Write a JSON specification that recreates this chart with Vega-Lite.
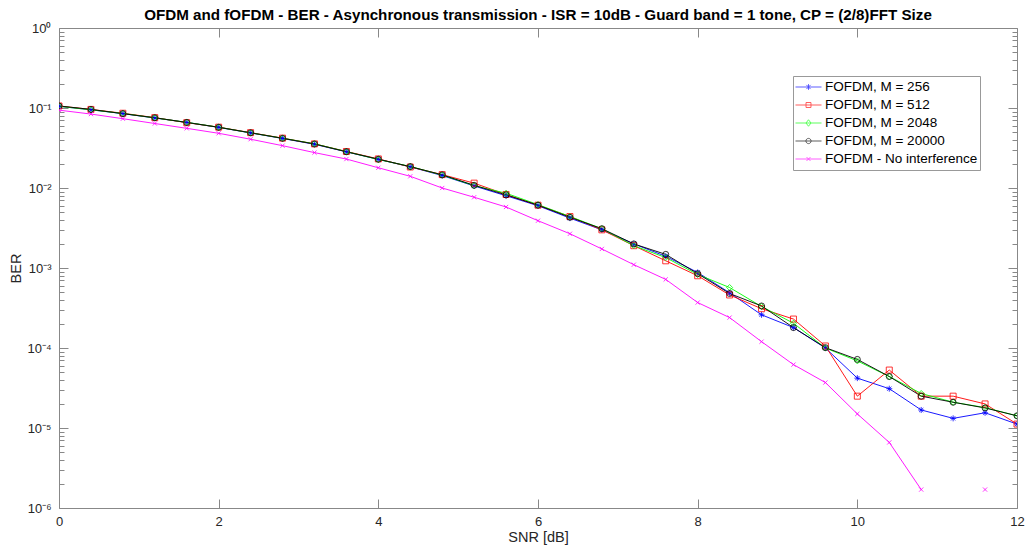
{
"$schema": "https://vega.github.io/schema/vega-lite/v6.json",
"width": 958, "height": 480,
"autosize": {"type": "none"},
"padding": {"left": 59, "top": 28, "right": 10, "bottom": 49},
"background": "white",
"title": {"text": "OFDM and fOFDM - BER - Asynchronous transmission - ISR = 10dB - Guard band  = 1 tone, CP = (2/8)FFT Size", "font": "Liberation Sans", "fontSize": 15.2, "fontWeight": "bold", "color": "#000000", "anchor": "middle", "offset": -1},
"config": {
  "view": {"stroke": "#888888", "strokeWidth": 1},
  "axis": {"grid": false, "domain": false, "tickColor": "#888888", "tickWidth": 1, "labelColor": "#262626", "labelFont": "Liberation Sans", "labelFontSize": 13, "titleFont": "Liberation Sans", "titleFontSize": 14.5, "titleFontWeight": "normal", "titleColor": "#262626"},
  "legend": {"orient": "none", "legendX": 734, "legendY": 48, "strokeColor": "#999999", "fillColor": "white", "padding": 2, "labelFont": "Liberation Sans", "labelFontSize": 13.5, "labelColor": "#000000", "symbolSize": 676, "symbolStrokeWidth": 0.9, "rowPadding": 0, "clipHeight": 18, "labelOffset": 3}
},
"data": {"values": [
{"series":"FOFDM, M = 256","snr":0,"ber":0.105},{"series":"FOFDM, M = 256","snr":0.4,"ber":0.095},{"series":"FOFDM, M = 256","snr":0.8,"ber":0.085},{"series":"FOFDM, M = 256","snr":1.2,"ber":0.075},{"series":"FOFDM, M = 256","snr":1.6,"ber":0.066},{"series":"FOFDM, M = 256","snr":2,"ber":0.0572},{"series":"FOFDM, M = 256","snr":2.4,"ber":0.0488},{"series":"FOFDM, M = 256","snr":2.8,"ber":0.0416},{"series":"FOFDM, M = 256","snr":3.2,"ber":0.0352},{"series":"FOFDM, M = 256","snr":3.6,"ber":0.0283},{"series":"FOFDM, M = 256","snr":4,"ber":0.0228},{"series":"FOFDM, M = 256","snr":4.4,"ber":0.0184},{"series":"FOFDM, M = 256","snr":4.8,"ber":0.0143},{"series":"FOFDM, M = 256","snr":5.2,"ber":0.0106},{"series":"FOFDM, M = 256","snr":5.6,"ber":0.008},{"series":"FOFDM, M = 256","snr":6,"ber":0.006},{"series":"FOFDM, M = 256","snr":6.4,"ber":0.0042},{"series":"FOFDM, M = 256","snr":6.8,"ber":0.003},{"series":"FOFDM, M = 256","snr":7.2,"ber":0.002},{"series":"FOFDM, M = 256","snr":7.6,"ber":0.0014},{"series":"FOFDM, M = 256","snr":8,"ber":0.00088},{"series":"FOFDM, M = 256","snr":8.4,"ber":0.00049},{"series":"FOFDM, M = 256","snr":8.8,"ber":0.00026},{"series":"FOFDM, M = 256","snr":9.2,"ber":0.00018},{"series":"FOFDM, M = 256","snr":9.6,"ber":0.0001},{"series":"FOFDM, M = 256","snr":10,"ber":0.000042},{"series":"FOFDM, M = 256","snr":10.4,"ber":0.000031},{"series":"FOFDM, M = 256","snr":10.8,"ber":0.0000168},{"series":"FOFDM, M = 256","snr":11.2,"ber":0.0000132},{"series":"FOFDM, M = 256","snr":11.6,"ber":0.0000155},{"series":"FOFDM, M = 256","snr":12,"ber":0.0000112},
{"series":"FOFDM, M = 512","snr":0,"ber":0.106},{"series":"FOFDM, M = 512","snr":0.4,"ber":0.096},{"series":"FOFDM, M = 512","snr":0.8,"ber":0.086},{"series":"FOFDM, M = 512","snr":1.2,"ber":0.0758},{"series":"FOFDM, M = 512","snr":1.6,"ber":0.0655},{"series":"FOFDM, M = 512","snr":2,"ber":0.0576},{"series":"FOFDM, M = 512","snr":2.4,"ber":0.0492},{"series":"FOFDM, M = 512","snr":2.8,"ber":0.042},{"series":"FOFDM, M = 512","snr":3.2,"ber":0.0356},{"series":"FOFDM, M = 512","snr":3.6,"ber":0.0286},{"series":"FOFDM, M = 512","snr":4,"ber":0.0231},{"series":"FOFDM, M = 512","snr":4.4,"ber":0.0183},{"series":"FOFDM, M = 512","snr":4.8,"ber":0.0147},{"series":"FOFDM, M = 512","snr":5.2,"ber":0.0115},{"series":"FOFDM, M = 512","snr":5.6,"ber":0.0083},{"series":"FOFDM, M = 512","snr":6,"ber":0.0061},{"series":"FOFDM, M = 512","snr":6.4,"ber":0.0044},{"series":"FOFDM, M = 512","snr":6.8,"ber":0.003},{"series":"FOFDM, M = 512","snr":7.2,"ber":0.0019},{"series":"FOFDM, M = 512","snr":7.6,"ber":0.00123},{"series":"FOFDM, M = 512","snr":8,"ber":0.0008},{"series":"FOFDM, M = 512","snr":8.4,"ber":0.00046},{"series":"FOFDM, M = 512","snr":8.8,"ber":0.00031},{"series":"FOFDM, M = 512","snr":9.2,"ber":0.00023},{"series":"FOFDM, M = 512","snr":9.6,"ber":0.000106},{"series":"FOFDM, M = 512","snr":10,"ber":0.000025},{"series":"FOFDM, M = 512","snr":10.4,"ber":0.000053},{"series":"FOFDM, M = 512","snr":10.8,"ber":0.000025},{"series":"FOFDM, M = 512","snr":11.2,"ber":0.000025},{"series":"FOFDM, M = 512","snr":11.6,"ber":0.00002},{"series":"FOFDM, M = 512","snr":12,"ber":0.0000112},
{"series":"FOFDM, M = 2048","snr":0,"ber":0.105},{"series":"FOFDM, M = 2048","snr":0.4,"ber":0.095},{"series":"FOFDM, M = 2048","snr":0.8,"ber":0.0855},{"series":"FOFDM, M = 2048","snr":1.2,"ber":0.0752},{"series":"FOFDM, M = 2048","snr":1.6,"ber":0.0662},{"series":"FOFDM, M = 2048","snr":2,"ber":0.0575},{"series":"FOFDM, M = 2048","snr":2.4,"ber":0.0489},{"series":"FOFDM, M = 2048","snr":2.8,"ber":0.0419},{"series":"FOFDM, M = 2048","snr":3.2,"ber":0.0357},{"series":"FOFDM, M = 2048","snr":3.6,"ber":0.0285},{"series":"FOFDM, M = 2048","snr":4,"ber":0.0227},{"series":"FOFDM, M = 2048","snr":4.4,"ber":0.0186},{"series":"FOFDM, M = 2048","snr":4.8,"ber":0.0145},{"series":"FOFDM, M = 2048","snr":5.2,"ber":0.0107},{"series":"FOFDM, M = 2048","snr":5.6,"ber":0.0086},{"series":"FOFDM, M = 2048","snr":6,"ber":0.0062},{"series":"FOFDM, M = 2048","snr":6.4,"ber":0.0044},{"series":"FOFDM, M = 2048","snr":6.8,"ber":0.0031},{"series":"FOFDM, M = 2048","snr":7.2,"ber":0.0019},{"series":"FOFDM, M = 2048","snr":7.6,"ber":0.00135},{"series":"FOFDM, M = 2048","snr":8,"ber":0.00083},{"series":"FOFDM, M = 2048","snr":8.4,"ber":0.00057},{"series":"FOFDM, M = 2048","snr":8.8,"ber":0.00033},{"series":"FOFDM, M = 2048","snr":9.2,"ber":0.000204},{"series":"FOFDM, M = 2048","snr":9.6,"ber":0.0001},{"series":"FOFDM, M = 2048","snr":10,"ber":0.000069},{"series":"FOFDM, M = 2048","snr":10.4,"ber":0.000044},{"series":"FOFDM, M = 2048","snr":10.8,"ber":0.000027},{"series":"FOFDM, M = 2048","snr":11.2,"ber":0.000021},{"series":"FOFDM, M = 2048","snr":11.6,"ber":0.000018},{"series":"FOFDM, M = 2048","snr":12,"ber":0.0000142},
{"series":"FOFDM, M = 20000","snr":0,"ber":0.106},{"series":"FOFDM, M = 20000","snr":0.4,"ber":0.096},{"series":"FOFDM, M = 20000","snr":0.8,"ber":0.085},{"series":"FOFDM, M = 20000","snr":1.2,"ber":0.0755},{"series":"FOFDM, M = 20000","snr":1.6,"ber":0.066},{"series":"FOFDM, M = 20000","snr":2,"ber":0.0574},{"series":"FOFDM, M = 20000","snr":2.4,"ber":0.049},{"series":"FOFDM, M = 20000","snr":2.8,"ber":0.0418},{"series":"FOFDM, M = 20000","snr":3.2,"ber":0.0355},{"series":"FOFDM, M = 20000","snr":3.6,"ber":0.0284},{"series":"FOFDM, M = 20000","snr":4,"ber":0.0229},{"series":"FOFDM, M = 20000","snr":4.4,"ber":0.0185},{"series":"FOFDM, M = 20000","snr":4.8,"ber":0.0146},{"series":"FOFDM, M = 20000","snr":5.2,"ber":0.0108},{"series":"FOFDM, M = 20000","snr":5.6,"ber":0.0082},{"series":"FOFDM, M = 20000","snr":6,"ber":0.0061},{"series":"FOFDM, M = 20000","snr":6.4,"ber":0.0043},{"series":"FOFDM, M = 20000","snr":6.8,"ber":0.0031},{"series":"FOFDM, M = 20000","snr":7.2,"ber":0.002},{"series":"FOFDM, M = 20000","snr":7.6,"ber":0.00148},{"series":"FOFDM, M = 20000","snr":8,"ber":0.00085},{"series":"FOFDM, M = 20000","snr":8.4,"ber":0.00048},{"series":"FOFDM, M = 20000","snr":8.8,"ber":0.000335},{"series":"FOFDM, M = 20000","snr":9.2,"ber":0.00018},{"series":"FOFDM, M = 20000","snr":9.6,"ber":0.000101},{"series":"FOFDM, M = 20000","snr":10,"ber":0.000072},{"series":"FOFDM, M = 20000","snr":10.4,"ber":0.000044},{"series":"FOFDM, M = 20000","snr":10.8,"ber":0.000025},{"series":"FOFDM, M = 20000","snr":11.2,"ber":0.000021},{"series":"FOFDM, M = 20000","snr":11.6,"ber":0.0000178},{"series":"FOFDM, M = 20000","snr":12,"ber":0.0000142},
{"series":"FOFDM - No interference","snr":0,"ber":0.094},{"series":"FOFDM - No interference","snr":0.4,"ber":0.084},{"series":"FOFDM - No interference","snr":0.8,"ber":0.0735},{"series":"FOFDM - No interference","snr":1.2,"ber":0.064},{"series":"FOFDM - No interference","snr":1.6,"ber":0.0557},{"series":"FOFDM - No interference","snr":2,"ber":0.0483},{"series":"FOFDM - No interference","snr":2.4,"ber":0.0407},{"series":"FOFDM - No interference","snr":2.8,"ber":0.0338},{"series":"FOFDM - No interference","snr":3.2,"ber":0.0277},{"series":"FOFDM - No interference","snr":3.6,"ber":0.023},{"series":"FOFDM - No interference","snr":4,"ber":0.0179},{"series":"FOFDM - No interference","snr":4.4,"ber":0.014},{"series":"FOFDM - No interference","snr":4.8,"ber":0.01},{"series":"FOFDM - No interference","snr":5.2,"ber":0.00766},{"series":"FOFDM - No interference","snr":5.6,"ber":0.00579},{"series":"FOFDM - No interference","snr":6,"ber":0.0039},{"series":"FOFDM - No interference","snr":6.4,"ber":0.00268},{"series":"FOFDM - No interference","snr":6.8,"ber":0.00173},{"series":"FOFDM - No interference","snr":7.2,"ber":0.0011},{"series":"FOFDM - No interference","snr":7.6,"ber":0.00072},{"series":"FOFDM - No interference","snr":8,"ber":0.00037},{"series":"FOFDM - No interference","snr":8.4,"ber":0.00024},{"series":"FOFDM - No interference","snr":8.8,"ber":0.00012},{"series":"FOFDM - No interference","snr":9.2,"ber":0.000062},{"series":"FOFDM - No interference","snr":9.6,"ber":0.000037},{"series":"FOFDM - No interference","snr":10,"ber":0.000015},{"series":"FOFDM - No interference","snr":10.4,"ber":0.0000066},{"series":"FOFDM - No interference","snr":10.8,"ber":0.0000017},{"series":"FOFDM - No interference","snr":11.2,"ber":null},{"series":"FOFDM - No interference","snr":11.6,"ber":0.0000017},{"series":"FOFDM - No interference","snr":12,"ber":null}
]},
"layer": [
 {
  "mark": {"type": "line", "strokeWidth": 0.9, "invalid": "break-paths-show-domains", "clip": true},
  "encoding": {
   "x": {"field": "snr", "type": "quantitative", "scale": {"domain": [0, 12], "nice": false, "zero": false},
         "axis": {"orient": "bottom", "title": "SNR [dB]", "values": [0,2,4,6,8,10,12], "tickSize": -9, "labelPadding": 16, "titlePadding": 2, "labelFlush": false}},
   "y": {"field": "ber", "type": "quantitative", "scale": {"type": "log", "domain": [0.000001, 1], "nice": false},
         "axis": {"orient": "left", "title": "BER", "titlePadding": 3, "labelPadding": 17,
                  "values": [0.000001,0.000002,0.000003,0.000004,0.000005,0.000006,0.000007,0.000008,0.000009,0.00001,0.00002,0.00003,0.00004,0.00005,0.00006,0.00007,0.00008,0.00009,0.0001,0.0002,0.0003,0.0004,0.0005,0.0006,0.0007,0.0008,0.0009,0.001,0.002,0.003,0.004,0.005,0.006,0.007,0.008,0.009,0.01,0.02,0.03,0.04,0.05,0.06,0.07,0.08,0.09,0.1,0.2,0.3,0.4,0.5,0.6,0.7,0.8,0.9,1],
                  "labelExpr": "datum.value==1?'10⁰':datum.value==0.1?'10⁻¹':datum.value==0.01?'10⁻²':datum.value==0.001?'10⁻³':datum.value==0.0001?'10⁻⁴':datum.value==0.00001?'10⁻⁵':datum.value==0.000001?'10⁻⁶':''",
                  "tickSize": {"condition": {"test": "indexof([0.000001,0.00001,0.0001,0.001,0.01,0.1,1], datum.value) >= 0", "value": -9}, "value": -5},
                  "labelFlush": false}},
   "color": {"field": "series", "type": "nominal",
             "scale": {"domain": ["FOFDM, M = 256","FOFDM, M = 512","FOFDM, M = 2048","FOFDM, M = 20000","FOFDM - No interference"], "range": ["#0000ff","#ff0000","#00ff00","#000000","#ff00ff"]},
             "legend": null}
  }
 },
 {
  "mark": {"type": "point", "filled": false, "strokeWidth": 0.8, "size": 36, "opacity": 1, "clip": true},
  "encoding": {
   "x": {"field": "snr", "type": "quantitative", "axis": {"orient": "top", "title": null, "labels": false, "values": [0,2,4,6,8,10,12], "tickSize": -9}},
   "y": {"field": "ber", "type": "quantitative",
         "axis": {"orient": "right", "title": null, "labels": false,
                  "values": [0.000001,0.000002,0.000003,0.000004,0.000005,0.000006,0.000007,0.000008,0.000009,0.00001,0.00002,0.00003,0.00004,0.00005,0.00006,0.00007,0.00008,0.00009,0.0001,0.0002,0.0003,0.0004,0.0005,0.0006,0.0007,0.0008,0.0009,0.001,0.002,0.003,0.004,0.005,0.006,0.007,0.008,0.009,0.01,0.02,0.03,0.04,0.05,0.06,0.07,0.08,0.09,0.1,0.2,0.3,0.4,0.5,0.6,0.7,0.8,0.9,1],
                  "tickSize": {"condition": {"test": "indexof([0.000001,0.00001,0.0001,0.001,0.01,0.1,1], datum.value) >= 0", "value": -9}, "value": -5}}},
   "color": {"field": "series", "type": "nominal", "legend": null,
             "scale": {"domain": ["FOFDM, M = 256","FOFDM, M = 512","FOFDM, M = 2048","FOFDM, M = 20000","FOFDM - No interference"], "range": ["#0000ff","#ff0000","#00ff00","#000000","#ff00ff"]}},
   "shape": {"field": "series", "type": "nominal", "legend": null,
             "scale": {"domain": ["FOFDM, M = 256","FOFDM, M = 512","FOFDM, M = 2048","FOFDM, M = 20000","FOFDM - No interference"],
                       "range": ["M-1,0H1M0,-1V1M-0.7,-0.7L0.7,0.7M-0.7,0.7L0.7,-0.7","square","diamond","circle","M-0.7,-0.7L0.7,0.7M-0.7,0.7L0.7,-0.7"]}}
  }
 },
 {
  "transform": [{"filter": "false"}],
  "mark": {"type": "point", "filled": false, "strokeWidth": 0.9, "clip": true},
  "encoding": {
   "x": {"field": "snr", "type": "quantitative", "axis": null},
   "y": {"field": "ber", "type": "quantitative", "axis": null},
   "color": {"field": "series", "type": "nominal", "legend": {"title": null},
             "scale": {"domain": ["FOFDM, M = 256","FOFDM, M = 512","FOFDM, M = 2048","FOFDM, M = 20000","FOFDM - No interference"], "range": ["#0000ff","#ff0000","#00ff00","#000000","#ff00ff"]}},
   "shape": {"field": "series", "type": "nominal", "legend": {"title": null},
             "scale": {"domain": ["FOFDM, M = 256","FOFDM, M = 512","FOFDM, M = 2048","FOFDM, M = 20000","FOFDM - No interference"],
                       "range": ["M-1,0H1M0,-0.22V0.22M-0.16,-0.16L0.16,0.16M-0.16,0.16L0.16,-0.16","M-1,0H1M-0.19,-0.19H0.19V0.19H-0.19Z","M-1,0H1M0,-0.25L0.19,0L0,0.25L-0.19,0Z","M-1,0H1M0.2,0A0.2,0.2 0 1,1 -0.2,0A0.2,0.2 0 1,1 0.2,0","M-1,0H1M-0.15,-0.15L0.15,0.15M-0.15,0.15L0.15,-0.15"]}}
  }
 }
],
"resolve": {"scale": {"color": "independent", "shape": "independent"}, "axis": {"x": "independent", "y": "independent"}, "legend": {"color": "independent", "shape": "independent"}}
}
